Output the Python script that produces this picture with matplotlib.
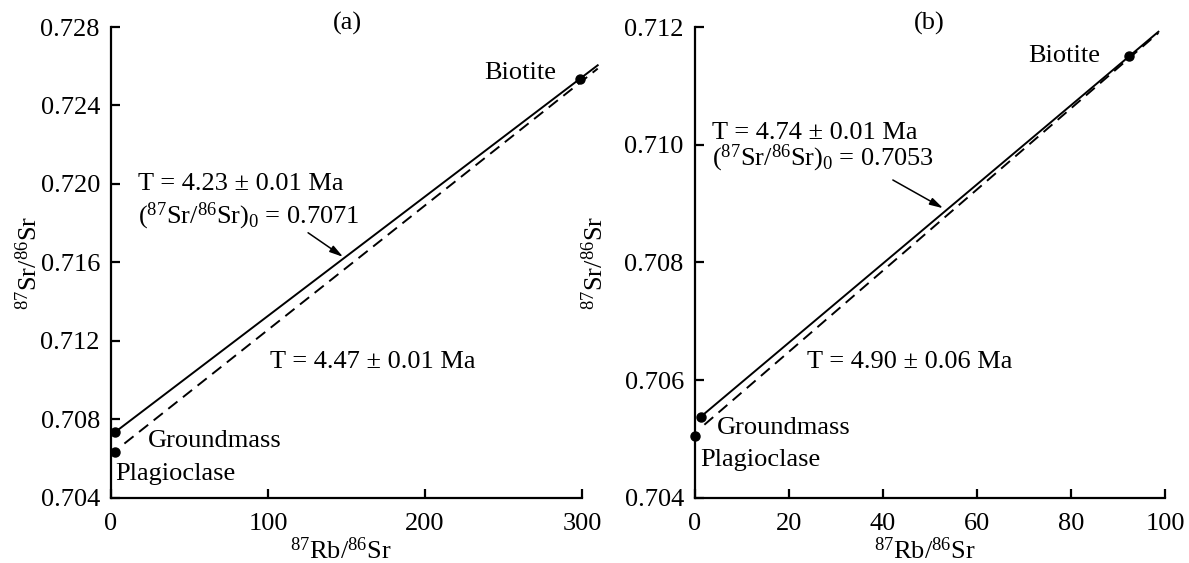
import matplotlib
matplotlib.use('Agg')
import matplotlib.pyplot as plt

plt.rcParams['font.family'] = ['Liberation Serif', 'DejaVu Serif']
plt.rcParams['mathtext.fontset'] = 'custom'
plt.rcParams['mathtext.rm'] = 'Liberation Serif'
plt.rcParams['mathtext.it'] = 'Liberation Serif:italic'
plt.rcParams['mathtext.bf'] = 'Liberation Serif:bold'

## Data

# panel (a): 87Rb/86Sr vs 87Sr/86Sr
names = ['Groundmass', 'Plagioclase', 'Biotite']
rb_a = [2.5, 2.5, 298.7]
sr_a = [0.70734, 0.70635, 0.72534]
# isochron end points (solid = groundmass-biotite, dashed = plagioclase-biotite)
solid_x_a = [2.5, 310]
solid_y_a = [0.70734, 0.72605]
dash_x_a = [8.5, 310]
dash_y_a = [0.70676, 0.72588]

# panel (b)
rb_b = [1.3, 0.0, 92.4]
sr_b = [0.70538, 0.70505, 0.71151]
solid_x_b = [1.3, 98.6]
solid_y_b = [0.70538, 0.71192]
dash_x_b = [2.0, 98.6]
dash_y_b = [0.70524, 0.71190]

xticks_a = [0, 100, 200, 300]
yticks_a = [0.704, 0.708, 0.712, 0.716, 0.720, 0.724, 0.728]
xticks_b = [0, 20, 40, 60, 80, 100]
yticks_b = [0.704, 0.706, 0.708, 0.710, 0.712]

fs = 19

fig = plt.figure(figsize=(11.89, 5.63), dpi=100)
ax1 = fig.add_axes([0.0934, 0.116, 0.3961, 0.836])
ax2 = fig.add_axes([0.5845, 0.116, 0.3953, 0.836])


def style_axes(ax, xt, yt, fmt):
  ax.spines['top'].set_visible(False)
  ax.spines['right'].set_visible(False)
  ax.spines['left'].set_linewidth(1.6)
  ax.spines['bottom'].set_linewidth(1.6)
  ax.set_xlim(xt[0], xt[-1])
  ax.set_ylim(yt[0], yt[-1])
  ax.set_xticks(xt)
  ax.set_yticks(yt)
  ax.set_yticklabels([fmt % v for v in yt])
  ax.tick_params(direction='in', length=6.5, width=1.6, labelsize=fs)
  ax.tick_params(axis='y', pad=8)
  ax.tick_params(axis='x', pad=11)
  ax.set_xlabel(r'$^{87}$Rb/$^{86}$Sr', fontsize=fs, va='center')
  ax.set_ylabel(r'$^{87}$Sr/$^{86}$Sr', fontsize=fs, va='center')


def draw_panel(ax, rb, sr, sx, sy, dx, dy):
  ax.plot(sx, sy, color='black', lw=1.4, clip_on=False)
  dl, = ax.plot(dx, dy, color='black', lw=1.4, clip_on=False)
  dl.set_dashes((6, 3.6))
  ax.plot(rb, sr, 'o', color='black', ms=6.5, clip_on=False, zorder=5)


# ---- panel (a)
style_axes(ax1, xticks_a, yticks_a, '%.3f')
draw_panel(ax1, rb_a, sr_a, solid_x_a, solid_y_a, dash_x_a, dash_y_a)
ax1.xaxis.set_label_coords(0.488, -0.113)
ax1.yaxis.set_label_coords(-0.175, 0.5)
ax1.text(0.501, 0.995, '(a)', transform=ax1.transAxes, ha='center', va='baseline', fontsize=fs)
ax1.text(23.6, 0.70661, names[0], fontsize=fs, va='baseline')
ax1.text(2.5, 0.70490, names[1], fontsize=fs, va='baseline')
ax1.text(238, 0.72534, names[2], fontsize=fs, va='baseline')
ax1.text(17.2, 0.71967, 'T = 4.23 \u00b1 0.01 Ma', fontsize=fs, va='baseline')
ax1.text(17.2, 0.71798, r'($^{87}$Sr/$^{86}$Sr)$_0$ = 0.7071', fontsize=fs, va='baseline')
ax1.text(101.3, 0.71063, 'T = 4.47 \u00b1 0.01 Ma', fontsize=fs, va='baseline')
ax1.annotate('', xy=(147.8, 0.71628), xytext=(125.5, 0.71751),
             arrowprops=dict(arrowstyle='-|>,head_length=0.8,head_width=0.22',
                             color='black', lw=1.1, shrinkA=0, shrinkB=0))

# ---- panel (b)
style_axes(ax2, xticks_b, yticks_b, '%.3f')
draw_panel(ax2, rb_b, sr_b, solid_x_b, solid_y_b, dash_x_b, dash_y_b)
ax2.xaxis.set_label_coords(0.489, -0.113)
ax2.yaxis.set_label_coords(-0.213, 0.5)
ax2.text(0.498, 0.995, '(b)', transform=ax2.transAxes, ha='center', va='baseline', fontsize=fs)
ax2.text(4.6, 0.70508, names[0], fontsize=fs, va='baseline')
ax2.text(1.1, 0.70454, names[1], fontsize=fs, va='baseline')
ax2.text(70.8, 0.71141, names[2], fontsize=fs, va='baseline')
ax2.text(3.6, 0.71010, 'T = 4.74 \u00b1 0.01 Ma', fontsize=fs, va='baseline')
ax2.text(3.6, 0.70964, r'($^{87}$Sr/$^{86}$Sr)$_0$ = 0.7053', fontsize=fs, va='baseline')
ax2.text(23.8, 0.70620, 'T = 4.90 \u00b1 0.06 Ma', fontsize=fs, va='baseline')
ax2.annotate('', xy=(52.8, 0.70892), xytext=(42.1, 0.70940),
             arrowprops=dict(arrowstyle='-|>,head_length=0.8,head_width=0.22',
                             color='black', lw=1.1, shrinkA=0, shrinkB=0))

fig.savefig('out.png', dpi=100)
